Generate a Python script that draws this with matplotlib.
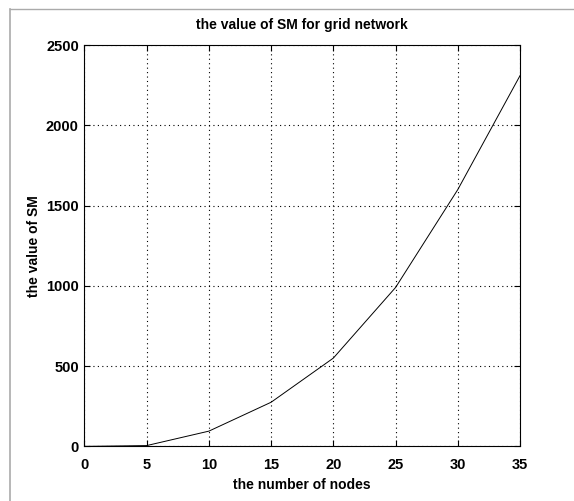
import matplotlib.pyplot as plt
from matplotlib.lines import Line2D

plt.rcParams['font.family'] = ['Liberation Sans', 'DejaVu Sans']

# values
nodes = [0, 5, 10, 15, 20, 25, 30, 35]
sm_values = [0, 5, 95, 275, 550, 990, 1600, 2310]
x_ticks = [0, 5, 10, 15, 20, 25, 30, 35]
y_ticks = [0, 500, 1000, 1500, 2000, 2500]

fig = plt.figure(figsize=(5.74, 5.01), dpi=100)
ax = fig.add_axes([0.147, 0.109, 0.759, 0.801])

ax.plot(nodes, sm_values, color='black', linewidth=0.7)

ax.set_xlim(0, 35)
ax.set_ylim(0, 2500)
ax.set_xticks(x_ticks)
ax.set_yticks(y_ticks)
ax.grid(True, linestyle=(0, (1, 3)), color='black', linewidth=0.8)
ax.tick_params(direction='in', top=True, right=True, length=4, labelsize=10.5)
ax.tick_params(axis='x', pad=8)
ax.tick_params(axis='y', pad=4)
for lab in ax.get_xticklabels() + ax.get_yticklabels():
    lab.set_fontweight('bold')
for s in ax.spines.values():
    s.set_linewidth(0.8)

ax.set_title("the value of SM for grid network", fontsize=10, fontweight='bold', pad=11.5)
ax.set_xlabel("the number of nodes", fontsize=10, fontweight='bold', labelpad=5)
ax.set_ylabel("the value of SM", fontsize=10, fontweight='bold', labelpad=3.5)

# faint scan frame on the left and top
fig.add_artist(Line2D([0.018, 0.018], [0.0, 0.982], color='#aaaaaa', linewidth=1.2))
fig.add_artist(Line2D([0.018, 1.0], [0.982, 0.982], color='#aaaaaa', linewidth=1.0))

fig.savefig('out.png', dpi=100)
